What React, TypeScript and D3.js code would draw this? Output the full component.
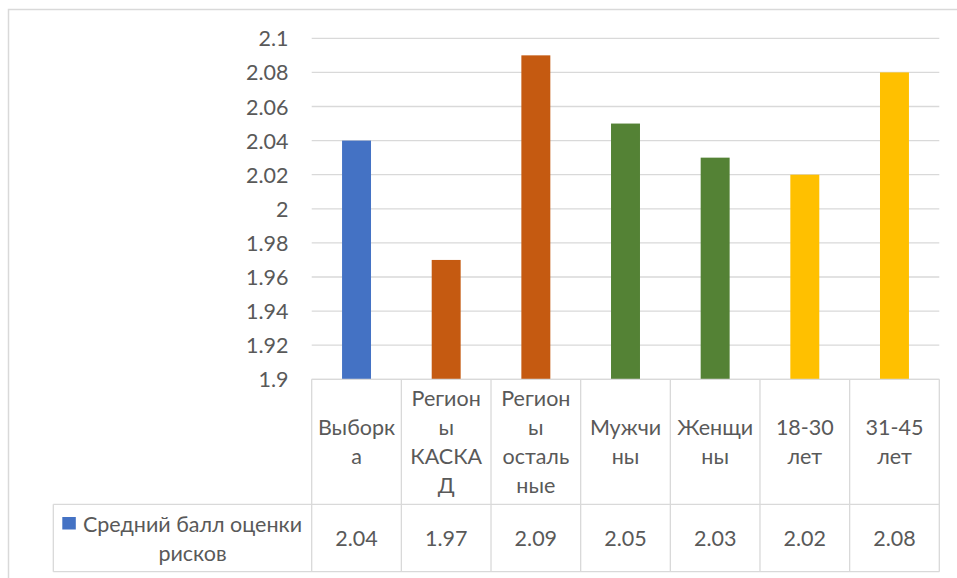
import React from "react";
import * as d3 from "d3";

// Category labels as they wrap in the data table header
const categoryLines: string[][] = [
  ["Выборк", "а"],
  ["Регион", "ы", "КАСКА", "Д"],
  ["Регион", "ы", "осталь", "ные"],
  ["Мужчи", "ны"],
  ["Женщи", "ны"],
  ["18-30", "лет"],
  ["31-45", "лет"],
];
const categories = ["Выборка", "Регионы КАСКАД", "Регионы остальные", "Мужчины", "Женщины", "18-30 лет", "31-45 лет"];
const values = [2.04, 1.97, 2.09, 2.05, 2.03, 2.02, 2.08];
const barColors = ["#4472C4", "#C55A11", "#C55A11", "#548235", "#548235", "#FFC000", "#FFC000"];
const yTicks = [1.9, 1.92, 1.94, 1.96, 1.98, 2, 2.02, 2.04, 2.06, 2.08, 2.1];
const seriesName = ["Средний балл оценки", "рисков"];

const W = 957;
const H = 578;
const FONT = "Lato, 'Noto Sans', sans-serif";
const TEXT = "#595959";
const GRID = "#d9d9d9";

export default function App() {
  const plotLeft = 311.7;
  const plotRight = 939.3;
  const plotTop = 38.3;
  const plotBottom = 379.3;
  const headerBottom = 504.3;
  const tableBottom = 571.7;
  const legendLeft = 53.3;
  const lineH = 29;
  const fs = 21.5;

  const y = d3.scaleLinear().domain([1.9, 2.1]).range([plotBottom, plotTop]);
  const col = d3.scaleBand<string>().domain(categories).range([plotLeft, plotRight]).padding(0);
  const bar = d3
    .scaleBand<string>()
    .domain(categories)
    .range([plotLeft, plotRight])
    .paddingInner(0.677)
    .paddingOuter(0.3385);

  const headerMid = (plotBottom + headerBottom) / 2;
  const valueMid = (headerBottom + tableBottom) / 2;
  const fmt = d3.format(".2f");

  return (
    <svg
      width={W}
      height={H}
      style={{ position: "absolute", left: 0, top: 0, background: "#fff" }}
      fontFamily={FONT}
    >
      {/* chart frame */}
      <rect x={8.5} y={9.5} width={W + 10} height={H + 10} fill="#fff" stroke={GRID} strokeWidth={1.5} />

      {/* gridlines and y tick labels */}
      {yTicks.map((t) => (
        <g key={t}>
          <line x1={plotLeft} x2={plotRight} y1={y(t)} y2={y(t)} stroke={GRID} strokeWidth={1.3} />
          <text
            x={288.5}
            y={y(t)}
            textAnchor="end"
            dominantBaseline="central"
            fontSize={fs}
            fill={TEXT}
          >
            {String(t)}
          </text>
        </g>
      ))}

      {/* bars */}
      {categories.map((c, i) => (
        <rect
          key={c}
          x={bar(c)}
          width={bar.bandwidth()}
          y={y(values[i])}
          height={y(1.9) - y(values[i])}
          fill={barColors[i]}
        />
      ))}

      {/* data table grid */}
      <g stroke={GRID} strokeWidth={1.3} fill="none">
        <line x1={plotLeft} x2={plotRight} y1={plotBottom} y2={plotBottom} />
        <line x1={legendLeft} x2={plotRight} y1={headerBottom} y2={headerBottom} />
        <line x1={legendLeft} x2={plotRight} y1={tableBottom} y2={tableBottom} />
        <line x1={legendLeft} x2={legendLeft} y1={headerBottom} y2={tableBottom} />
        {categories.map((c) => (
          <line key={c} x1={col(c)} x2={col(c)} y1={plotBottom} y2={tableBottom} />
        ))}
        <line x1={plotRight} x2={plotRight} y1={plotBottom} y2={tableBottom} />
      </g>

      {/* header labels */}
      {categories.map((c, i) => {
        const lines = categoryLines[i];
        const cx = (col(c) as number) + col.bandwidth() / 2;
        const start = headerMid - ((lines.length - 1) * lineH) / 2;
        return (
          <g key={c}>
            {lines.map((ln, j) => (
              <text
                key={j}
                x={cx}
                y={start + j * lineH}
                textAnchor="middle"
                dominantBaseline="central"
                fontSize={fs}
                fill={TEXT}
              >
                {ln}
              </text>
            ))}
          </g>
        );
      })}

      {/* value row */}
      {categories.map((c, i) => (
        <text
          key={c}
          x={(col(c) as number) + col.bandwidth() / 2}
          y={valueMid}
          textAnchor="middle"
          dominantBaseline="central"
          fontSize={fs}
          fill={TEXT}
        >
          {fmt(values[i])}
        </text>
      ))}

      {/* legend key */}
      <rect x={62.3} y={517} width={13.5} height={12.5} fill={barColors[0]} />
      {seriesName.map((ln, j) => (
        <text
          key={j}
          x={192.5}
          y={valueMid - lineH / 2 + j * lineH}
          textAnchor="middle"
          dominantBaseline="central"
          fontSize={fs}
          fill={TEXT}
        >
          {ln}
        </text>
      ))}
    </svg>
  );
}
